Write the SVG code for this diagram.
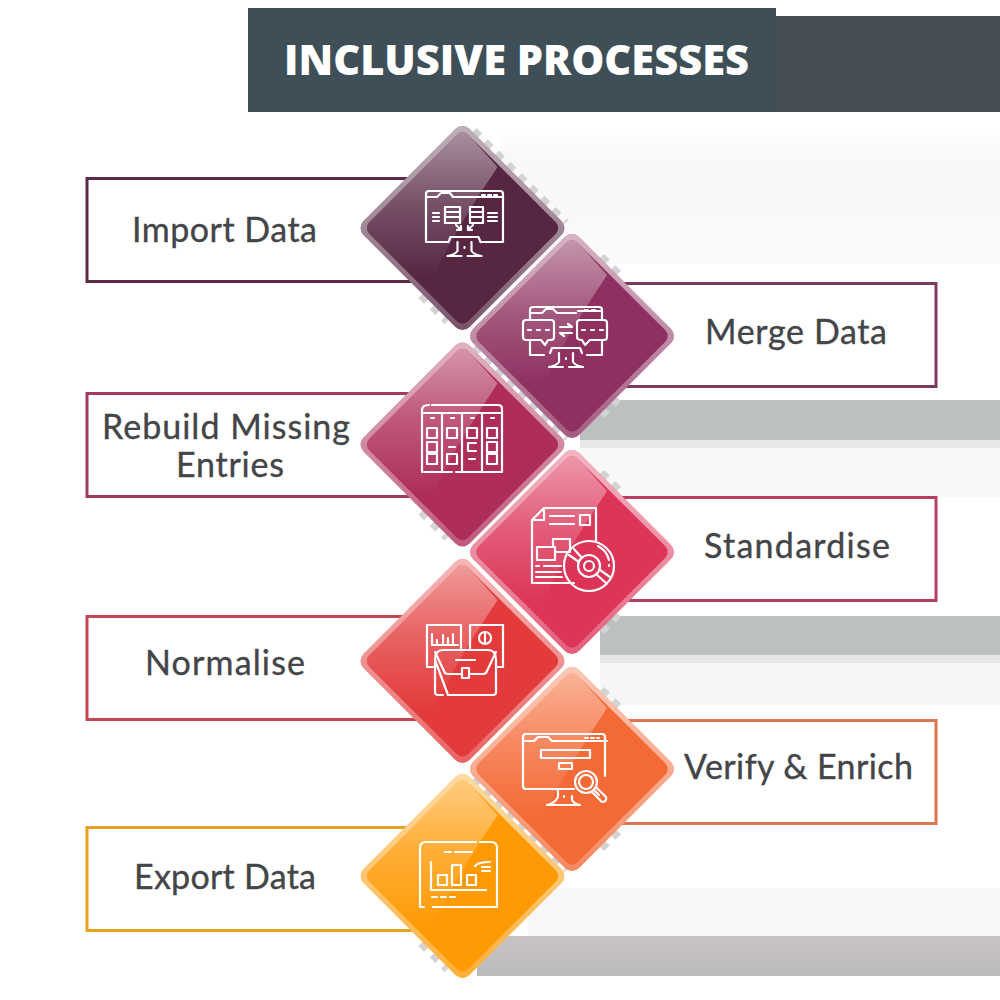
<svg xmlns="http://www.w3.org/2000/svg" width="1000" height="1000" viewBox="0 0 1000 1000">
<style>
.lbl{font-family:"Lato","Liberation Sans",sans-serif;font-size:34px;fill:#444548;stroke:#444548;stroke-width:.35;text-anchor:start}
.box{fill:#fff;stroke-width:3}
.ic{fill:none;stroke:#fff;stroke-width:2.2;stroke-linecap:round;stroke-linejoin:round}
.shade{fill:none;stroke:#d2d4d4;stroke-width:6;stroke-dasharray:8 8}
</style>
<defs>
<linearGradient id="fade" x1="0" y1="0" x2="0" y2="1"><stop offset="0" stop-color="#fff" stop-opacity=".5"/><stop offset=".5" stop-color="#fff" stop-opacity=".2"/><stop offset="1" stop-color="#fff" stop-opacity="0"/></linearGradient>
<linearGradient id="rimg" gradientUnits="userSpaceOnUse" x1="-80" y1="-80" x2="80" y2="80"><stop offset="0" stop-color="#fff" stop-opacity=".65"/><stop offset=".55" stop-color="#fff" stop-opacity=".42"/><stop offset="1" stop-color="#fff" stop-opacity=".18"/></linearGradient>
<linearGradient id="band1" x1="0" y1="0" x2="0" y2="1"><stop offset="0" stop-color="#fff"/><stop offset=".25" stop-color="#f8f8f8"/><stop offset="1" stop-color="#fafafa"/></linearGradient>
<linearGradient id="band5" x1="0" y1="0" x2="0" y2="1"><stop offset="0" stop-color="#c8c2c6"/><stop offset="1" stop-color="#bbbbbd"/></linearGradient>
<rect id="rim" x="-75" y="-75" width="150" height="150" rx="10" transform="rotate(45)"/>
<rect id="rimlight" x="-75" y="-75" width="150" height="150" rx="10" transform="rotate(45)" fill="url(#rimg)"/>
<rect id="face" x="-70" y="-70" width="140" height="140" rx="8" transform="rotate(45)"/>
<clipPath id="faceclip"><rect x="-70" y="-70" width="140" height="140" rx="8" transform="rotate(45)"/></clipPath>
<g id="gloss" clip-path="url(#faceclip)"><path d="M0-100L35-61C15-30 0-10-30 50L-100 50L-100-100Z" fill="url(#fade)"/></g>
<path id="stand" d="M-16-7L-14-12H14L16-7M-7-7V2M7-7V2M-7 2C-9 5-12 6-17 7M7 2C9 5 12 6 17 7M-17 7H-3M3 7H17M0-2V-1" class="ic"/>
<path id="edge-left" class="shade" d="M12-98L104-6M-42 68L-16 94"/>
<path id="edge-right" class="shade" d="M30-80L48-62M30 80L48 62"/>
</defs>

<g id="background">
<rect x="500" y="128" width="500" height="136" fill="url(#band1)"/>
<rect x="580" y="400" width="420" height="40" fill="#bcc0bf"/>
<rect x="580" y="440" width="420" height="8" fill="#e6e7e7"/>
<rect x="580" y="448" width="420" height="49" fill="#f8f8f8"/>
<rect x="600" y="616" width="400" height="39" fill="#bbc1be"/>
<rect x="600" y="655" width="400" height="8" fill="#e6e6e6"/>
<rect x="600" y="663" width="400" height="42" fill="#f6f6f6"/>
<rect x="528" y="888" width="472" height="48" fill="#f7f7f7"/>
<rect x="477" y="936" width="523" height="40" fill="url(#band5)"/>
</g>

<g id="header">
<rect x="776" y="16" width="224" height="96" fill="#474f55"/>
<rect x="248" y="8" width="528" height="104" fill="#3f4f58"/>
<text x="284" y="75" font-family="'Open Sans','Liberation Sans',sans-serif" font-weight="800" font-size="42" fill="#fff" textLength="465" lengthAdjust="spacingAndGlyphs">INCLUSIVE PROCESSES</text>
</g>

<g id="node-import-data">
<rect class="box" x="87" y="178.500" width="340" height="103" stroke="#5e2a4b"/>
<text class="lbl" x="132" y="242" textLength="185">Import Data</text>
</g>
<g id="node-rebuild">
<rect class="box" x="87" y="393.500" width="340" height="103" stroke="#a23a5e"/>
<text class="lbl" x="102" y="439" textLength="248">Rebuild Missing</text>
<text class="lbl" x="176" y="477" textLength="108">Entries</text>
</g>
<g id="node-normalise">
<rect class="box" x="87" y="616.500" width="340" height="103" stroke="#c24650"/>
<text class="lbl" x="145" y="675" textLength="160">Normalise</text>
</g>
<g id="node-export">
<rect class="box" x="87" y="827.500" width="340" height="103" stroke="#e9a21f"/>
<text class="lbl" x="134" y="889" textLength="182">Export Data</text>
</g>
<g id="node-merge">
<rect class="box" x="600" y="283.500" width="336" height="103" stroke="#7d3a5c"/>
<text class="lbl" x="705" y="344" textLength="182">Merge Data</text>
</g>
<g id="node-standardise">
<rect class="box" x="600" y="497.500" width="336" height="103" stroke="#b83e60"/>
<text class="lbl" x="704" y="558" textLength="186">Standardise</text>
</g>
<g id="node-verify">
<rect class="box" x="600" y="720.500" width="336" height="103" stroke="#dc7353"/>
<text class="lbl" x="684" y="779" textLength="229">Verify &amp; Enrich</text>
</g>

<g id="diamond-1" transform="translate(462.500 228)">
<use href="#edge-left"/><use href="#rim" fill="#562643"/><use href="#rimlight"/><use href="#face" fill="#562643"/><use href="#gloss"/>
</g>
<g id="diamond-3" transform="translate(462.500 444.500)">
<use href="#edge-left"/><use href="#rim" fill="#ae2e58"/><use href="#rimlight"/><use href="#face" fill="#ae2e58"/><use href="#gloss"/>
</g>
<g id="diamond-5" transform="translate(462.500 661)">
<use href="#rim" fill="#e33b3b"/><use href="#rimlight"/><use href="#face" fill="#e33b3b"/><use href="#gloss"/>
</g>
<g id="diamond-7" transform="translate(462.500 876)">
<use href="#edge-left"/><use href="#rim" fill="#ff9a05"/><use href="#rimlight"/><use href="#face" fill="#ff9a05"/><use href="#gloss"/>
</g>
<g id="diamond-2" transform="translate(572 336)">
<use href="#edge-right"/><use href="#rim" fill="#8e3060"/><use href="#rimlight"/><use href="#face" fill="#8e3060"/><use href="#gloss"/>
</g>
<g id="diamond-4" transform="translate(572 552)">
<use href="#edge-right"/><use href="#rim" fill="#dc3558"/><use href="#rimlight"/><use href="#face" fill="#dc3558"/><use href="#gloss"/>
</g>
<g id="diamond-6" transform="translate(572 769)">
<use href="#edge-right"/><use href="#rim" fill="#f46a37"/><use href="#rimlight"/><use href="#face" fill="#f46a37"/><use href="#gloss"/>
</g>

<g id="icon-1" class="ic">
<path d="M426 237V194Q426 191 429 191H500Q503 191 503 194V242H482M448 242H426V237M426 197H437L441 193H450L453 197H503M482 195H485M488 195H491M494 195H497"/>
<path d="M445 207H460V223H445ZM470 207H483V223H470ZM445 212H460M445 217H460M470 212H483M470 217H483"/>
<path d="M433 213H439M433 217H439M433 221H439M488 213H497M488 217H497M488 221H497"/>
<path d="M456 225L461 230M461 230H457M461 230V226M473 225L468 230M468 230H472M468 230V226"/>
<use href="#stand" x="464.500" y="249"/>
</g>
<g id="icon-2" class="ic">
<path d="M530 320V310Q530 307 533 307H599Q602 307 602 310V320M530 340V355H544M587 355H602V340M530 313H542L546 309H553L557 313H576M578 311H602M585 310H588M592 310H595"/>
<path d="M523 323Q523 320 526 320H551Q554 320 554 323V337Q554 340 551 340H548L545 345L541 340H526Q523 340 523 337ZM577 323Q577 320 580 320H604Q607 320 607 323V337Q607 340 604 340H590L585 345L582 340Q577 340 577 337Z"/>
<path d="M528 330H531M537 330H540M546 330H549M582 330H585M591 330H594M600 330H603"/>
<path d="M560 327H572L568 324M572 333H560L564 336"/>
<use href="#stand" x="566" y="360"/>
</g>
<g id="icon-3" class="ic">
<path d="M424 472H452M456 472H502V409Q502 405 498 405H432M429 405Q422 405 422 410V472M422 413H502M442 413V472M462 413V472M482 413V472"/>
<path d="M431 418H434M451 418H454M471 418H474M491 418H494"/>
<path d="M427 428H437V438H427ZM447 428H457V438H447ZM467 428H477V438H467ZM487 428H497V438H487ZM427 442H437V452H427ZM487 442H497V452H487ZM427 454H437V464H427ZM447 454H457V464H447ZM487 454H497V464H487Z"/>
<path d="M449 447H455M476 443H468V451H476M469 459H475"/>
</g>
<g id="icon-4" class="ic">
<path d="M574 583H532V520L544 508H596V541M532 520H544V508"/>
<path d="M550 516H574M550 524H574M580 515H590V525H580ZM553 547V539H570V552H555M537 547H555V560H537Z"/>
<path d="M536 566H539M544 566H561M536 572H561M536 577H562"/>
<circle cx="589" cy="566" r="25"/><circle cx="589" cy="566" r="5"/><circle cx="589" cy="566" r="11"/>
<path d="M574 549L582 558M569 555L579 562M596 574L606 583M600 570L610 577M598 546Q607 551 609 560M609 565V566"/>
</g>
<g id="icon-5" class="ic">
<path d="M433 667H427V625H461V649M470 649V625H503V667H497"/>
<path d="M432 634V645H458M437 645V640M443 645V635M448 645V638M453 645V634"/>
<circle cx="485" cy="638" r="6"/><path d="M485 632V644"/>
<path d="M435 660V692Q435 695 438 695H443M448 695H493Q496 695 496 692V660Q496 650 488 650H443Q435 650 435 660Z"/>
<path d="M435 652L445 673Q446 674 449 674H462M469 674H482Q485 674 486 673L496 652M456 660H475M462 668H469V678H462Z"/>
</g>
<g id="icon-6" class="ic">
<path d="M605 776V737Q605 734 602 734H526Q523 734 523 737V786Q523 789 526 789H574M523 741H534L538 737H548L552 741H607M585 738H588M591 738H594M597 738H599"/>
<path d="M541 750H590V758H541ZM559 763H572V769H559Z"/>
<circle cx="586" cy="782" r="11"/><circle cx="586" cy="782" r="7"/>
<path d="M594 790L599 795M597 788L606 797Q607 801 603 802Q601 802 600 800L592 792"/>
<path d="M558 790V797C556 801 552 804 547 805H580C575 804 573 802 572 800V796M564 796V797"/>
</g>
<g id="icon-7" class="ic">
<path d="M424 907H420V848Q420 842 426 842H476M480 842H491Q497 842 497 848V907H433"/>
<path d="M445 852H451M455 852H472"/>
<path d="M431 862V890H486M438 875H447V885H438ZM452 865H461V885H452ZM467 875H476V885H467Z"/>
<path d="M475 866Q478 862 490 862M482 867H490M482 871H490"/>
<path d="M432 897H437M441 897H446M450 897H455"/>
</g>
</svg>
